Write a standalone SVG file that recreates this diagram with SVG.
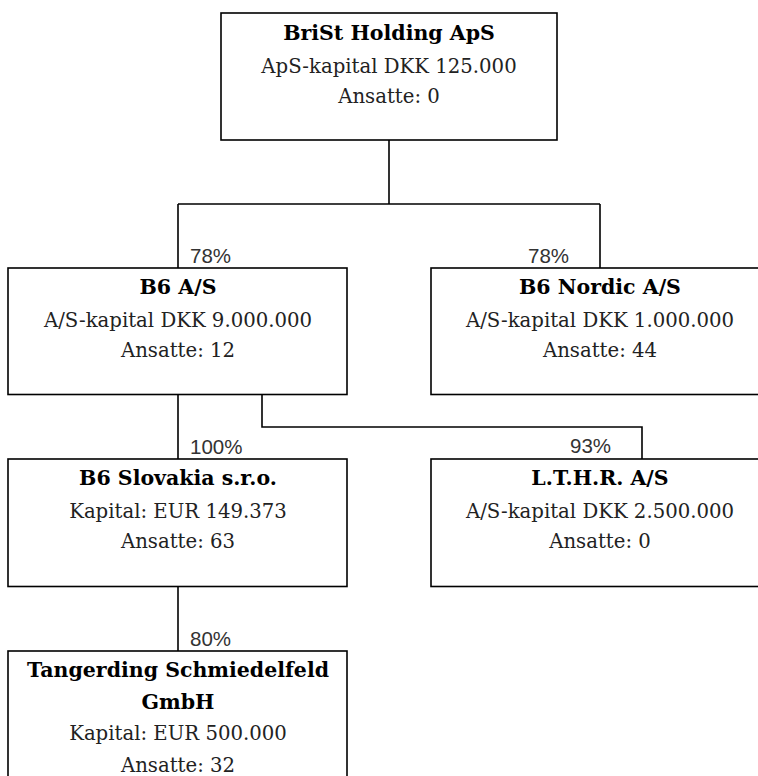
<svg xmlns="http://www.w3.org/2000/svg" width="758" height="776" viewBox="0 0 758 776">
<style>
.box{fill:#fff;stroke:#000;stroke-width:1.6}
.ln{fill:none;stroke:#000;stroke-width:1.6}
.t{font-family:"DejaVu Serif","Liberation Serif",serif;font-size:19.7px;fill:#222;text-anchor:middle}
.b{font-family:"DejaVu Serif","Liberation Serif",serif;font-size:20.5px;font-weight:bold;fill:#000;text-anchor:middle}
.p{font-family:"Liberation Sans",Arial,sans-serif;font-size:20.5px;fill:#333}
</style>
<rect width="758" height="776" fill="#fff"/>
<g id="connectors">
<path class="ln" d="M389 140V204M178 204H600M178 204V268M600 204V268"/>
<path class="ln" d="M178 394.5V459M262 394.5V427H642V459"/>
<path class="ln" d="M178 586.5V651"/>
<text class="p" x="190" y="263">78%</text>
<text class="p" x="528" y="263">78%</text>
<text class="p" x="190" y="454">100%</text>
<text class="p" x="570" y="453">93%</text>
<text class="p" x="190" y="646">80%</text>
</g>
<g id="brist">
<rect class="box" x="221" y="13" width="336" height="127"/>
<text class="b" x="389" y="40">BriSt Holding ApS</text>
<text class="t" x="389" y="73">ApS-kapital DKK 125.000</text>
<text class="t" x="389" y="103">Ansatte: 0</text>
</g>
<g id="b6as">
<rect class="box" x="8" y="268" width="339" height="126.5"/>
<text class="b" x="178" y="294">B6 A/S</text>
<text class="t" x="178" y="327">A/S-kapital DKK 9.000.000</text>
<text class="t" x="178" y="357">Ansatte: 12</text>
</g>
<g id="b6nordic">
<rect class="box" x="431" y="268" width="339" height="126.5"/>
<text class="b" x="600" y="294">B6 Nordic A/S</text>
<text class="t" x="600" y="327">A/S-kapital DKK 1.000.000</text>
<text class="t" x="600" y="357">Ansatte: 44</text>
</g>
<g id="slovakia">
<rect class="box" x="8" y="459" width="339" height="127.5"/>
<text class="b" x="178" y="485">B6 Slovakia s.r.o.</text>
<text class="t" x="178" y="518">Kapital: EUR 149.373</text>
<text class="t" x="178" y="548">Ansatte: 63</text>
</g>
<g id="lthr">
<rect class="box" x="431" y="459" width="339" height="127.5"/>
<text class="b" x="600" y="485">L.T.H.R. A/S</text>
<text class="t" x="600" y="518">A/S-kapital DKK 2.500.000</text>
<text class="t" x="600" y="548">Ansatte: 0</text>
</g>
<g id="tangerding">
<rect class="box" x="8" y="651" width="339" height="140"/>
<text class="b" x="178" y="677">Tangerding Schmiedelfeld</text>
<text class="b" x="178" y="709">GmbH</text>
<text class="t" x="178" y="740">Kapital: EUR 500.000</text>
<text class="t" x="178" y="772">Ansatte: 32</text>
</g>
</svg>
